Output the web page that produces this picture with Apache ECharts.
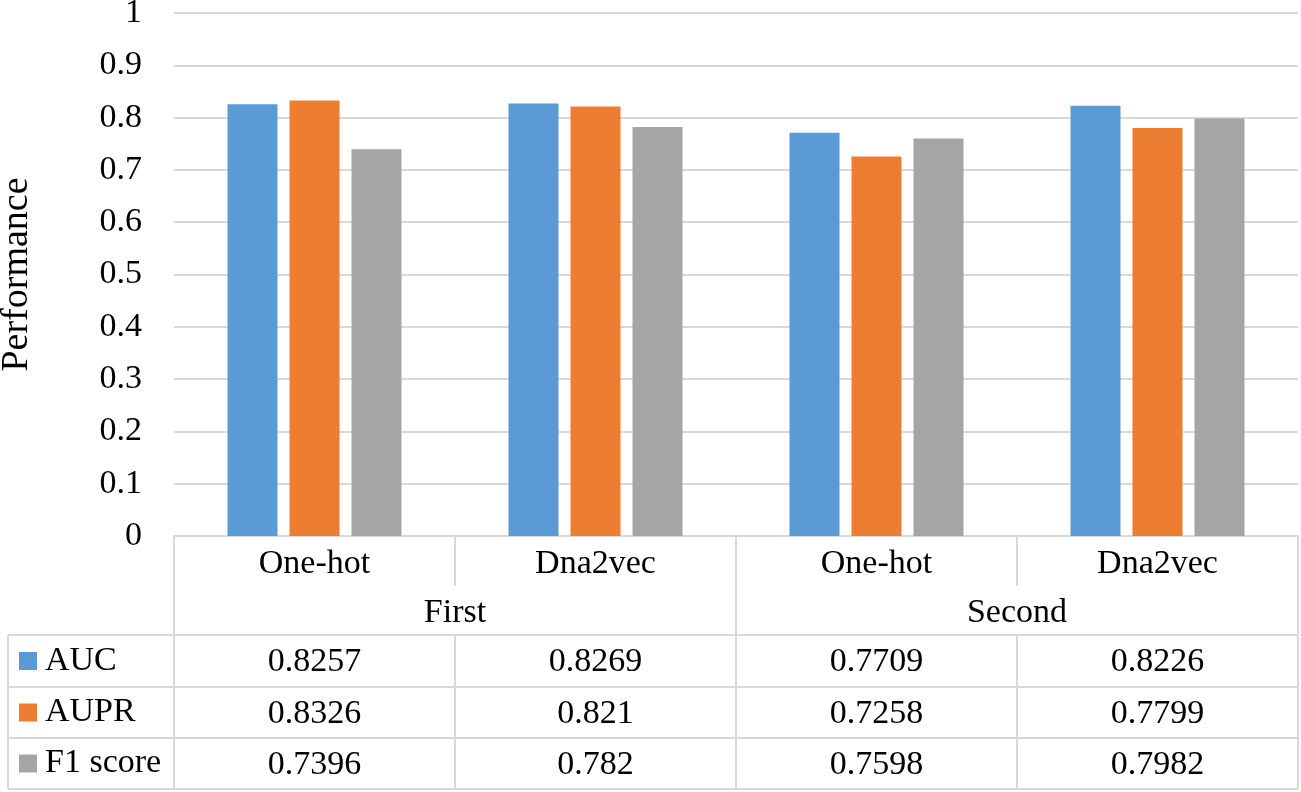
<!DOCTYPE html>
<html>
<head>
<meta charset="utf-8">
<script src="https://cdn.jsdelivr.net/npm/echarts@6/dist/echarts.min.js"></script>
<style>
html,body{margin:0;padding:0;background:#fff;}
#chart{width:1301px;height:792px;}
</style>
</head>
<body>
<div id="chart"></div>
<script>
const categories = ['One-hot', 'Dna2vec', 'One-hot', 'Dna2vec'];
const groups = ['First', 'Second'];
const seriesNames = ['AUC', 'AUPR', 'F1 score'];
const auc = [0.8257, 0.8269, 0.7709, 0.8226];
const aupr = [0.8326, 0.821, 0.7258, 0.7799];
const f1 = [0.7396, 0.782, 0.7598, 0.7982];
const colors = ['#5B9BD5', '#ED7D31', '#A5A5A5'];

const FONT = 'Liberation Serif, Times New Roman, serif';
const LINE = '#D9D9D9';
const values = [auc, aupr, f1];

function tableAxis(data, offset, tickLen, showLine, margin) {
  return {
    type: 'category', gridIndex: 0, position: 'bottom', offset: offset,
    data: data,
    axisLine: { show: showLine, lineStyle: { color: LINE, width: 2 } },
    axisTick: { show: true, length: tickLen, inside: false, lineStyle: { color: LINE, width: 2 } },
    axisLabel: { show: true, margin: margin, color: '#000', fontFamily: FONT, fontSize: 34, interval: 0 },
    splitLine: { show: false }
  };
}

const chart = echarts.init(document.getElementById('chart'), null, { renderer: 'canvas' });

const xAxes = [
  tableAxis(categories, 0, 50, true, 11),
  tableAxis(groups, 50, 49, false, 10),
  tableAxis(auc.map(String), 99, 52, true, 10),
  tableAxis(aupr.map(String), 151, 51, true, 10),
  tableAxis(f1.map(String), 202, 51, true, 10)
];

const rowCenters = [661, 712.5, 763.5];
const legends = seriesNames.map((n, i) => ({
  data: [n], left: 19, top: rowCenters[i] - 17, padding: 0,
  icon: 'rect', itemWidth: 18, itemHeight: 18,
  selectedMode: false,
  textStyle: { fontFamily: FONT, fontSize: 34, color: '#000', padding: [0, 0, 0, 3] }
}));

const L = (x1, y1, x2, y2) => ({ type: 'line', shape: { x1, y1, x2, y2 }, style: { stroke: LINE, lineWidth: 2 }, silent: true });

chart.setOption({
  animation: false,
  backgroundColor: '#fff',
  grid: { left: 174, right: 3, top: 13, bottom: 256, containLabel: false, outerBoundsMode: 'none' },
  legend: legends,
  xAxis: xAxes,
  yAxis: {
    type: 'value', min: 0, max: 1, interval: 0.1,
    name: 'Performance', nameLocation: 'middle', nameRotate: 90, nameGap: 138,
    nameTextStyle: { fontFamily: FONT, fontSize: 38, color: '#000' },
    axisLine: { show: false }, axisTick: { show: false },
    axisLabel: { margin: 32, color: '#000', fontFamily: FONT, fontSize: 34 },
    splitLine: { lineStyle: { color: LINE, width: 2 } }
  },
  series: seriesNames.map((n, i) => ({
    name: n, type: 'bar', xAxisIndex: 0, data: values[i],
    barWidth: 50, barGap: '24%',
    itemStyle: { color: colors[i] }
  })),
  graphic: [
    L(8, 635, 174, 635), L(8, 687, 174, 687), L(8, 738, 174, 738),
    L(8, 789, 1298, 789), L(8, 635, 8, 789)
  ]
});
</script>
</body>
</html>
